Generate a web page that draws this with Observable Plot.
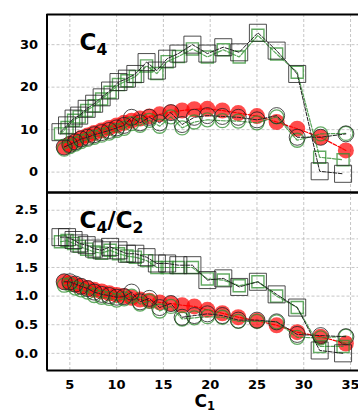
<!DOCTYPE html>
<html><head><meta charset="utf-8">
<script src="https://cdn.jsdelivr.net/npm/d3@7"></script>
<script src="https://cdn.jsdelivr.net/npm/@observablehq/plot@0.6"></script>
<style>
html,body{margin:0;padding:0;background:#fff;overflow:hidden;}
#wrap{position:relative;width:358px;height:412px;background:#fff;}
#wrap svg{position:absolute;left:0;}
</style></head><body><div id="wrap"></div>
<script>
// ---- data ----
const xTicks = [5, 10, 15, 20, 25, 30, 35];
const c4Ticks = [0, 10, 20, 30];
const ratioTicks = [0, 0.5, 1, 1.5, 2, 2.5];

const squareC1 = [4.0, 4.7, 5.4, 6.0, 6.8, 7.6, 8.4, 9.3, 10.2, 11.1, 12.0, 13.2, 14.3, 15.4, 16.6, 18.1, 19.7, 21.4, 23.1, 25.1, 27.1, 29.3, 31.7, 34.2];
const c4BlackSq = [9.4, 11.0, 12.6, 13.3, 14.9, 16.1, 17.6, 19.2, 21.2, 22.0, 23.1, 25.9, 23.9, 26.7, 27.9, 30.0, 27.9, 29.4, 28.2, 32.8, 28.6, 23.1, 0.2, -0.4];
const c4GreenSq = [9.0, 10.5, 12.2, 13.0, 14.5, 15.6, 17.2, 18.8, 20.6, 21.5, 22.5, 25.0, 23.2, 26.0, 27.2, 29.0, 27.1, 28.8, 27.1, 32.2, 27.8, 23.5, 3.5, 2.9];
const ratioBlackSq = [2.03, 2.03, 1.98, 1.92, 1.89, 1.83, 1.80, 1.86, 1.80, 1.74, 1.74, 1.68, 1.57, 1.57, 1.54, 1.54, 1.28, 1.31, 1.16, 1.25, 1.03, 0.80, 0.05, 0.0];
const ratioGreenSq = [1.95, 1.97, 1.92, 1.87, 1.82, 1.77, 1.75, 1.80, 1.74, 1.70, 1.68, 1.62, 1.50, 1.50, 1.50, 1.50, 1.30, 1.28, 1.18, 1.25, 1.00, 0.80, 0.12, 0.12];

const circleC1 = [4.4, 5.0, 5.6, 6.2, 6.9, 7.6, 8.4, 9.2, 10.0, 10.8, 11.6, 12.5, 13.5, 14.6, 15.8, 17.0, 18.3, 19.7, 21.3, 23.0, 25.0, 27.1, 29.3, 31.8, 34.5];
const c4Red = [5.9, 6.6, 7.3, 8.0, 8.6, 9.2, 9.8, 10.4, 11.0, 11.6, 12.1, 12.6, 13.1, 13.6, 14.1, 14.5, 14.8, 14.9, 14.5, 13.9, 13.2, 11.8, 10.2, 8.2, 5.1];
const c4BlackCirc = [5.9, 6.5, 7.1, 7.8, 8.2, 8.8, 9.3, 9.8, 10.4, 11.0, 12.9, 11.6, 12.9, 11.6, 14.0, 11.2, 12.9, 13.3, 13.1, 12.9, 12.3, 13.3, 8.2, 8.2, 9.0];
const c4GreenCirc = [5.4, 6.0, 6.6, 7.2, 7.7, 8.2, 8.7, 9.2, 9.8, 10.3, 11.4, 11.0, 12.2, 10.8, 13.0, 10.4, 11.8, 12.3, 12.1, 12.0, 11.6, 13.0, 7.5, 9.0, 9.1];
const ratioRed = [1.25, 1.23, 1.20, 1.17, 1.14, 1.11, 1.08, 1.05, 1.02, 1.00, 0.97, 0.94, 0.92, 0.89, 0.87, 0.84, 0.82, 0.76, 0.70, 0.63, 0.57, 0.49, 0.37, 0.29, 0.17];
const ratioBlackCirc = [1.25, 1.25, 1.21, 1.17, 1.13, 1.07, 1.03, 1.01, 0.98, 0.99, 1.07, 0.90, 0.96, 0.80, 0.87, 0.63, 0.66, 0.69, 0.66, 0.58, 0.58, 0.55, 0.33, 0.31, 0.29];
const ratioGreenCirc = [1.19, 1.20, 1.14, 1.11, 1.07, 1.01, 0.98, 0.96, 0.93, 0.95, 1.00, 0.86, 0.91, 0.74, 0.82, 0.60, 0.62, 0.64, 0.63, 0.56, 0.56, 0.55, 0.28, 0.27, 0.30];

// ---- layout ----
const W = 358, ML = 46.5;
const xDomain = [2.56, 35.85];
const c4Domain = [-4.8, 37.1];
const ratioDomain = [-0.30, 2.81];
const GREEN = "#2f8f2f", BLACK = "#222", DASH = "3.7,1.6";

function subscripts(svg) {
  d3.select(svg).selectAll("text").each(function () {
    const t = this.textContent;
    if (!t.includes("_")) return;
    const parts = t.split(/_(\w)/);
    const el = d3.select(this);
    el.text(null);
    let shifted = false;
    parts.forEach((p, i) => {
      if (!p) return;
      if (i % 2 === 1) {
        el.append("tspan").attr("font-size", "0.68em").attr("dy", "0.3em").text(p);
        shifted = true;
      } else {
        const s = el.append("tspan").text(p);
        if (shifted) { s.attr("dy", "-0.204em"); shifted = false; }
      }
    });
  });
}

function panel({height, marginTop, marginBottom, yDomain, yTicks, yFormat, label, bSq, gSq, red, bCi, gCi, bottom}) {
  const sq = squareC1.map((x, i) => ({x, b: bSq[i], g: gSq[i]}));
  const ci = circleC1.map((x, i) => ({x, r: red[i], b: bCi[i], g: gCi[i]}));
  const grid = {stroke: "#b8b8b8", strokeOpacity: 1, strokeWidth: 0.8, strokeDasharray: "3,2"};
  const frame = {stroke: "#000", strokeWidth: 2};
  const marks = [
    Plot.gridX(xTicks, grid),
    Plot.gridY(yTicks, grid),
    Plot.axisY(yTicks, {tickSize: 0, tickPadding: 9, tickFormat: yFormat, label: null, fontSize: 13, fontWeight: "bold"}),
    Plot.line(ci, {x: "x", y: "r", stroke: "#ff0000", strokeWidth: 1.2, strokeDasharray: DASH}),
    Plot.dot(ci, {x: "x", y: "r", r: 8, fill: "#ff0000", fillOpacity: 0.7, stroke: "none"}),
    Plot.line(ci, {x: "x", y: "g", stroke: GREEN, strokeOpacity: 0.8, strokeWidth: 1.2, strokeDasharray: DASH}),
    Plot.dot(ci, {x: "x", y: "g", r: 7, fill: "none", stroke: GREEN, strokeOpacity: 0.75, strokeWidth: 1.3}),
    Plot.line(ci, {x: "x", y: "b", stroke: BLACK, strokeWidth: 1, strokeDasharray: DASH}),
    Plot.dot(ci, {x: "x", y: "b", r: 8, fill: "none", stroke: BLACK, strokeOpacity: 0.8, strokeWidth: 1}),
    Plot.line(sq, {x: "x", y: "g", stroke: GREEN, strokeOpacity: 0.8, strokeWidth: 1.2, strokeDasharray: DASH}),
    Plot.dot(sq, {x: "x", y: "g", symbol: "square", r: 6.8, fill: "none", stroke: GREEN, strokeOpacity: 0.75, strokeWidth: 1.4}),
    Plot.line(sq, {x: "x", y: "b", stroke: BLACK, strokeWidth: 1, strokeDasharray: DASH}),
    Plot.dot(sq, {x: "x", y: "b", symbol: "square", r: 9.6, fill: "none", stroke: BLACK, strokeOpacity: 0.8, strokeWidth: 1}),
    Plot.ruleX([xDomain[0]], frame),
    Plot.ruleY([yDomain[0]], frame),
    Plot.ruleY([yDomain[1]], frame),
    Plot.text([label], {frameAnchor: "top-left", dx: 32.5, dy: 19, fontSize: 23, fontWeight: "bold", textAnchor: "start", lineAnchor: "top", fill: "#000"})
  ];
  if (bottom) {
    marks.push(Plot.axisX(xTicks, {tickSize: 0, tickPadding: 9, label: null, fontSize: 13, fontWeight: "bold"}));
    marks.push(Plot.text(["C_1"], {frameAnchor: "bottom", dx: 2, dy: 24, fontSize: 17, fontWeight: "bold", lineAnchor: "top", fill: "#000"}));
  }
  const p = Plot.plot({
    width: W, height, marginLeft: ML, marginRight: 0, marginTop, marginBottom,
    x: {domain: xDomain, ...(bottom ? {} : {axis: null})},
    y: {domain: yDomain},
    style: {fontFamily: "DejaVu Sans", fontSize: "13px", fontWeight: "bold", color: "#000", background: "transparent", overflow: "visible"},
    marks
  });
  subscripts(p);
  return p;
}

const wrap = document.getElementById("wrap");
const top1 = panel({height: 193, marginTop: 14, marginBottom: 1, yDomain: c4Domain, yTicks: c4Ticks, yFormat: d3.format("d"),
  label: "C_4", bSq: c4BlackSq, gSq: c4GreenSq, red: c4Red, bCi: c4BlackCirc, gCi: c4GreenCirc, bottom: false});
top1.style.top = "0px";
const bot = panel({height: 221, marginTop: 1, marginBottom: 42, yDomain: ratioDomain, yTicks: ratioTicks, yFormat: d3.format(".1f"),
  label: "C_4/C_2", bSq: ratioBlackSq, gSq: ratioGreenSq, red: ratioRed, bCi: ratioBlackCirc, gCi: ratioGreenCirc, bottom: true});
bot.style.top = "191px";
wrap.appendChild(top1);
wrap.appendChild(bot);
</script></body></html>
